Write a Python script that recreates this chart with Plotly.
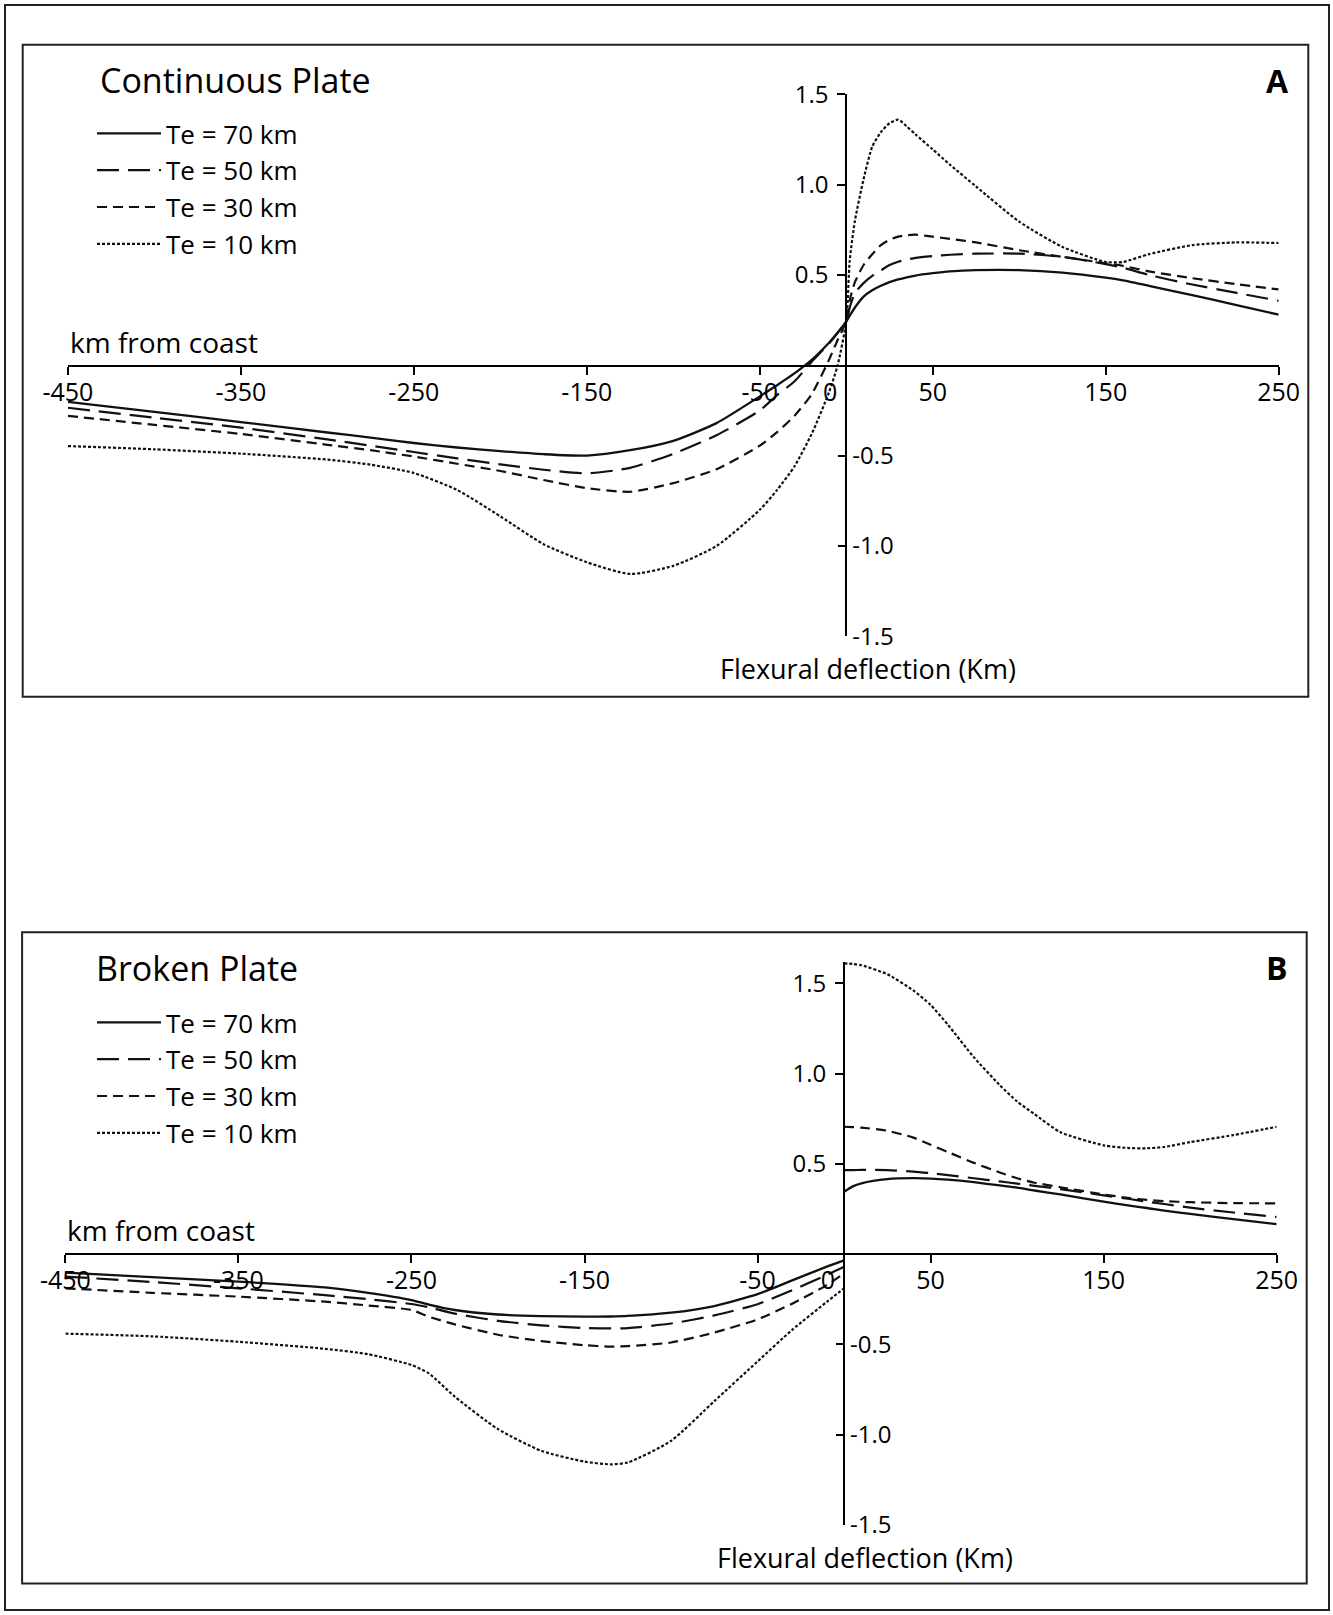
import plotly.graph_objects as go

W, H = 1333, 1615
FONT = "Open Sans, Noto Sans, sans-serif"

# ---------------- data ----------------
series_names = ["Te = 70 km", "Te = 50 km", "Te = 30 km", "Te = 10 km"]

x_tick_vals = [-450, -350, -250, -150, -50, 0, 50, 150, 250]
x_tick_text = ["-450", "-350", "-250", "-150", "-50", "0\u00a0\u00a0\u00a0\u00a0\u00a0", "50", "150", "250"]
y_pos_ticks = [0.5, 1.0, 1.5]
y_pos_text = ["0.5", "1.0", "1.5"]
y_neg_ticks = [-0.5, -1.0, -1.5]
y_neg_text = ["-0.5", "-1.0", "-1.5"]

# Panel A - continuous plate
xa = [-450, -400, -350, -300, -275, -250, -225, -200, -175, -150,
      -125, -100, -75, -50, -40, -30, -20, -10, -5, 0,
      2, 5, 10, 15, 20, 25, 30, 35, 40, 50,
      60, 75, 100, 125, 150, 160, 175, 200, 225, 250]
a_te70 = [-0.203, -0.258, -0.314, -0.372, -0.40, -0.43, -0.455, -0.475, -0.492, -0.50,
          -0.47, -0.418, -0.32, -0.172, -0.11, -0.045, 0.03, 0.125, 0.18, 0.243,
          0.275, 0.32, 0.38, 0.415, 0.44, 0.46, 0.475, 0.487, 0.497, 0.51,
          0.52, 0.527, 0.527, 0.513, 0.485, 0.47, 0.44, 0.388, 0.335, 0.28]
a_te50 = [-0.235, -0.29, -0.345, -0.41, -0.445, -0.48, -0.515, -0.548, -0.578, -0.598,
          -0.568, -0.49, -0.387, -0.25, -0.165, -0.09, 0.02, 0.12, 0.18, 0.243,
          0.32, 0.40, 0.455, 0.495, 0.525, 0.555, 0.573, 0.585, 0.595, 0.605,
          0.612, 0.618, 0.618, 0.60, 0.56, 0.54, 0.50, 0.447, 0.402, 0.357]
a_te30 = [-0.28, -0.33, -0.38, -0.44, -0.47, -0.505, -0.545, -0.585, -0.635, -0.68,
          -0.70, -0.652, -0.575, -0.445, -0.37, -0.28, -0.16, 0.03, 0.14, 0.243,
          0.36, 0.46, 0.555, 0.615, 0.665, 0.695, 0.712, 0.72, 0.723, 0.712,
          0.70, 0.68, 0.637, 0.60, 0.565, 0.55, 0.52, 0.482, 0.45, 0.42]
a_te10 = [-0.447, -0.465, -0.489, -0.522, -0.55, -0.596, -0.69, -0.836, -0.99, -1.09,
          -1.155, -1.11, -1.0, -0.80, -0.69, -0.56, -0.38, -0.15, 0.0, 0.243,
          0.58, 0.80, 1.03, 1.21, 1.29, 1.34, 1.36, 1.322, 1.278, 1.195,
          1.11, 0.99, 0.795, 0.655, 0.572, 0.572, 0.615, 0.665, 0.68, 0.677]

# Panel B - broken plate (left and right of the break at x = 0)
xb_left = [-450, -400, -350, -300, -275, -250, -240, -225, -200, -175,
           -150, -135, -125, -100, -75, -50, -30, -10, 0]
xb_right = [0, 5, 10, 25, 40, 50, 60, 75, 90, 100,
            110, 125, 150, 165, 175, 185, 200, 225, 250]
b_te70_left = [-0.103, -0.128, -0.153, -0.185, -0.215, -0.255, -0.28, -0.31, -0.335, -0.344,
               -0.347, -0.346, -0.343, -0.325, -0.288, -0.222, -0.146, -0.07, -0.035]
b_te70_right = [0.345, 0.375, 0.392, 0.415, 0.42, 0.418, 0.412, 0.398, 0.38, 0.368,
                0.352, 0.33, 0.29, 0.268, 0.255, 0.24, 0.222, 0.193, 0.166]
b_te50_left = [-0.125, -0.155, -0.19, -0.228, -0.25, -0.277, -0.295, -0.33, -0.37, -0.395,
               -0.41, -0.412, -0.41, -0.385, -0.34, -0.278, -0.2, -0.116, -0.07]
b_te50_right = [0.465, 0.465, 0.466, 0.465, 0.457, 0.448, 0.437, 0.42, 0.402, 0.39,
                0.378, 0.36, 0.325, 0.305, 0.29, 0.277, 0.257, 0.23, 0.205]
b_te30_left = [-0.19, -0.215, -0.236, -0.264, -0.285, -0.31, -0.347, -0.39, -0.447, -0.482,
               -0.505, -0.513, -0.51, -0.49, -0.435, -0.362, -0.275, -0.172, -0.107]
b_te30_right = [0.705, 0.703, 0.70, 0.683, 0.645, 0.605, 0.565, 0.505, 0.452, 0.42,
                0.395, 0.37, 0.33, 0.31, 0.30, 0.293, 0.287, 0.282, 0.281]
b_te10_left = [-0.441, -0.456, -0.486, -0.525, -0.555, -0.615, -0.661, -0.79, -0.97, -1.09,
               -1.15, -1.165, -1.155, -1.035, -0.815, -0.595, -0.42, -0.265, -0.19]
b_te10_right = [1.61, 1.607, 1.60, 1.55, 1.46, 1.38, 1.27, 1.09, 0.935, 0.845,
                0.775, 0.675, 0.602, 0.587, 0.586, 0.593, 0.62, 0.659, 0.705]

# ---------------- styling ----------------
LINE_STYLES = [
    dict(color="#111111", width=2.3, dash="solid"),
    dict(color="#111111", width=2.2, dash="22px,9px"),
    dict(color="#111111", width=2.2, dash="10px,6px"),
    dict(color="#111111", width=2.2, dash="3px,2px"),
]


def px_x(px):
    return px / W


def px_y(py):
    return 1 - py / H


fig = go.Figure()

a_series = [a_te70, a_te50, a_te30, a_te10]
for name, ys, st in zip(series_names, a_series, LINE_STYLES):
    fig.add_trace(go.Scatter(x=xa, y=ys, mode="lines", name=name, line=dict(st, shape="spline", smoothing=0.6),
                             xaxis="x", yaxis="y", legend="legend", hoverinfo="skip"))

b_left = [b_te70_left, b_te50_left, b_te30_left, b_te10_left]
b_right = [b_te70_right, b_te50_right, b_te30_right, b_te10_right]
for name, yl, yr, st in zip(series_names, b_left, b_right, LINE_STYLES):
    fig.add_trace(go.Scatter(x=xb_left + [None] + xb_right, y=yl + [None] + yr, mode="lines", name=name,
                             line=dict(st, shape="spline", smoothing=0.6), connectgaps=False,
                             xaxis="x2", yaxis="y2", legend="legend2", hoverinfo="skip"))

# empty traces so that the negative-label axes (drawn on the right side of x = 0) are rendered
fig.add_trace(go.Scatter(x=[], y=[], xaxis="x", yaxis="y3", showlegend=False, hoverinfo="skip"))
fig.add_trace(go.Scatter(x=[], y=[], xaxis="x2", yaxis="y4", showlegend=False, hoverinfo="skip"))

tick_font_x = dict(family=FONT, size=25, color="black")
tick_font_y = dict(family=FONT, size=24, color="black")

common_x = dict(range=[-450, 250], tickmode="array", tickvals=x_tick_vals, ticktext=x_tick_text,
                ticks="outside", ticklen=8, tickwidth=2, tickcolor="black", showline=True,
                linecolor="black", linewidth=2, showgrid=False, zeroline=False, tickfont=tick_font_x,
                anchor="free", fixedrange=True, tickangle=0, automargin=False, ticklabelstandoff=-4)
common_y_pos = dict(tickmode="array", tickvals=y_pos_ticks, ticktext=y_pos_text, ticks="outside",
                    ticklen=8, tickwidth=2, tickcolor="black", showline=True, linecolor="black",
                    linewidth=2, showgrid=False, zeroline=False, tickfont=tick_font_y,
                    anchor="free", side="left", fixedrange=True, automargin=False, ticklabelstandoff=4)
common_y_neg = dict(tickmode="array", tickvals=y_neg_ticks, ticktext=y_neg_text, ticks="inside",
                    ticklen=8, tickwidth=2, tickcolor="black", showline=False, showgrid=False,
                    zeroline=False, tickfont=tick_font_y, anchor="free", side="right", fixedrange=True,
                    automargin=False, ticklabelstandoff=5)

# Panel A geometry (pixels)
A_X0, A_X1 = 67.9, 1278.7          # x = -450 .. 250
A_YTOP, A_YBOT = 94.3, 636.3       # y = 1.5 .. -1.5
A_ZERO_X, A_ZERO_Y = 846.3, 365.6
A_YRANGE = [-1.5, 1.5]
# Panel B geometry (pixels)
B_X0, B_X1 = 65.4, 1276.7
B_YTOP, B_YBOT = 961.6, 1524.8      # y = 1.62 .. -1.5
B_ZERO_X, B_ZERO_Y = 844.1, 1254.0
B_YRANGE = [-1.5, 1.62]

fig.update_layout(
    xaxis=dict(common_x, domain=[px_x(A_X0), px_x(A_X1)], position=px_y(A_ZERO_Y)),
    yaxis=dict(common_y_pos, range=A_YRANGE, domain=[px_y(A_YBOT), px_y(A_YTOP)], position=px_x(A_ZERO_X)),
    yaxis3=dict(common_y_neg, range=A_YRANGE, overlaying="y", position=px_x(A_ZERO_X)),
    xaxis2=dict(common_x, domain=[px_x(B_X0), px_x(B_X1)], position=px_y(B_ZERO_Y)),
    yaxis2=dict(common_y_pos, range=B_YRANGE, domain=[px_y(B_YBOT), px_y(B_YTOP)], position=px_x(B_ZERO_X)),
    yaxis4=dict(common_y_neg, range=B_YRANGE, overlaying="y2", position=px_x(B_ZERO_X)),
)

legend_common = dict(xanchor="left", yanchor="top", font=dict(family=FONT, size=26, color="black"),
                     itemwidth=64, bgcolor="rgba(0,0,0,0)", borderwidth=0, itemclick=False,
                     itemdoubleclick=False, traceorder="normal")
fig.update_layout(
    legend=dict(legend_common, x=px_x(92), y=px_y(110)),
    legend2=dict(legend_common, x=px_x(92), y=px_y(999)),
)

# frames
frame_line = dict(color="#222222", width=2)
shapes = [
    dict(type="rect", xref="paper", yref="paper", x0=px_x(5), x1=px_x(1329), y0=px_y(5), y1=px_y(1610), line=frame_line),
    dict(type="rect", xref="paper", yref="paper", x0=px_x(22.7), x1=px_x(1308.3), y0=px_y(44.7), y1=px_y(696.7), line=frame_line),
    dict(type="rect", xref="paper", yref="paper", x0=px_x(22.1), x1=px_x(1306.7), y0=px_y(932.3), y1=px_y(1583.4), line=frame_line),
]

texts = [
    ("Continuous Plate", 98, 79.5, "left", 34, False),
    ("A", 1277.5, 81, "center", 32, True),
    ("km from coast", 67.5, 342, "left", 28, False),
    ("Flexural deflection (Km)", 867.5, 669, "center", 27, False),
    ("Broken Plate", 93.7, 968, "left", 34, False),
    ("B", 1277, 967.5, "center", 32, True),
    ("km from coast", 65, 1230, "left", 28, False),
    ("Flexural deflection (Km)", 865, 1557, "center", 27, False),
]
annotations = []
for t, x, y, anc, size, bold in texts:
    annotations.append(dict(text=("<b>%s</b>" % t) if bold else t, xref="paper", yref="paper",
                            x=px_x(x), y=px_y(y), xanchor=anc, yanchor="middle", showarrow=False,
                            font=dict(family=FONT, size=size, color="black")))

fig.update_layout(
    width=W, height=H, autosize=False,
    margin=dict(l=0, r=0, t=0, b=0, pad=0, autoexpand=False),
    paper_bgcolor="white", plot_bgcolor="rgba(0,0,0,0)",
    shapes=shapes, annotations=annotations, showlegend=True,
    font=dict(family=FONT, color="black"),
)

fig.write_html("out.html", config={"displayModeBar": False, "displaylogo": False},
               post_script="document.body.style.margin='0px';")
